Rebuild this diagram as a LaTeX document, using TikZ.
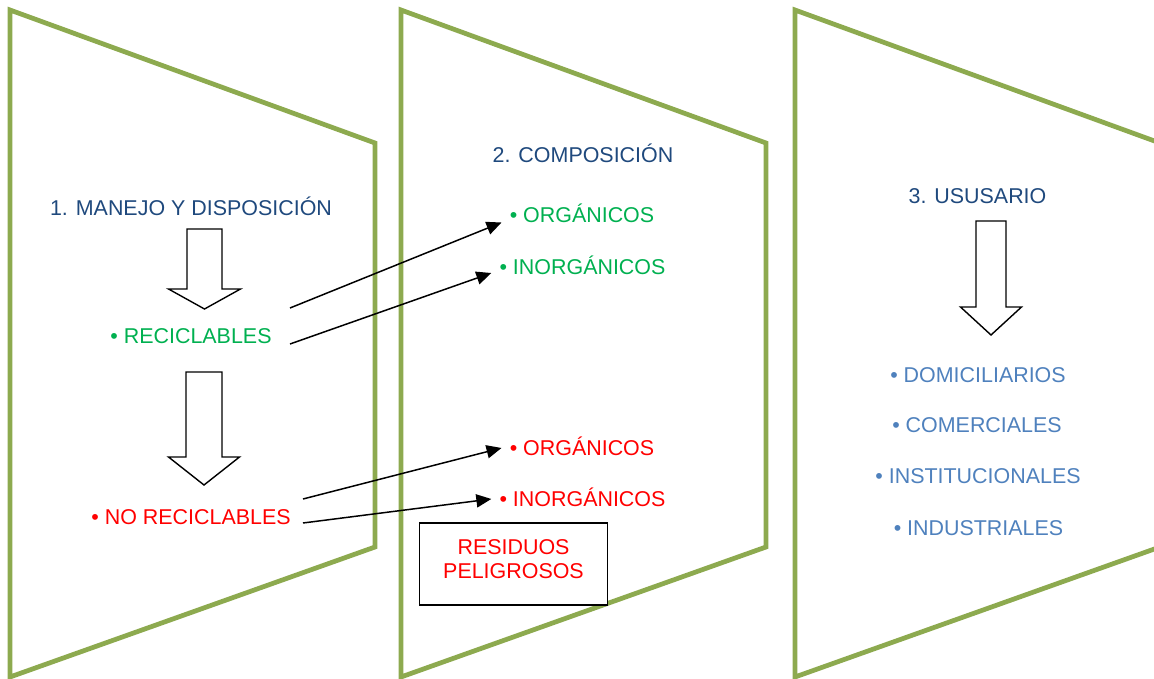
\documentclass[tikz,border=0pt]{standalone}
\usepackage{fontspec}
\setmainfont{Liberation Sans}
\usepackage{xcolor}
\usetikzlibrary{arrows.meta}
\definecolor{panelgreen}{RGB}{141,170,79}
\definecolor{titleblue}{RGB}{31,73,125}
\definecolor{itemgreen}{RGB}{0,176,80}
\definecolor{itemblue}{RGB}{79,129,189}

\begin{document}
\begin{tikzpicture}[x=0.02cm,y=-0.02cm,
    panel/.style={draw=panelgreen, line width=2.7pt},
    txt/.style={anchor=base, inner sep=0pt, font=\fontsize{12.2}{14}\selectfont},
    conn/.style={-{Triangle[length=8.5pt,width=7.5pt]}, line width=0.85pt},
    bigarrow/.style={draw=black, fill=white, line width=0.8pt}]
    \useasboundingbox (0,0) rectangle (1154,679);
    \clip (0,0) rectangle (1154,679);
    % the three panels
    \foreach \x in {10,401,795}
        \draw[panel] (\x,10) -- ++(365,133) -- ++(0,404) -- (\x,677) -- cycle;
    % block arrows
    \foreach \cx/\ya/\yb/\yc/\ws/\wh in {204.5/229/289/309/17.5/36, 204/372/457/485/18/35.5, 991/221/307/335/15/30.5}
        \draw[bigarrow] (\cx-\ws,\ya) -- (\cx+\ws,\ya) -- (\cx+\ws,\yb) -- (\cx+\wh,\yb) -- (\cx,\yc) -- (\cx-\wh,\yb) -- (\cx-\ws,\yb) -- cycle;
    % panel 1
    \node[txt, text=titleblue] (manejo) at (191,215.5) {1. MANEJO Y DISPOSICIÓN};
    \node[txt, text=itemgreen] (recic) at (191,343.5) {• RECICLABLES};
    \node[txt, text=red] (norecic) at (191,524.5) {• NO RECICLABLES};
    % panel 2
    \node[txt, text=titleblue] (compo) at (583,162.5) {2. COMPOSICIÓN};
    \node[txt, text=itemgreen] (orgA) at (582,222.5) {• ORGÁNICOS};
    \node[txt, text=itemgreen] (inorgA) at (582.5,274.5) {• INORGÁNICOS};
    \node[txt, text=red] (orgB) at (582,455) {• ORGÁNICOS};
    \node[txt, text=red] (inorgB) at (582.5,506) {• INORGÁNICOS};
    \node[draw, fill=white, line width=1pt, minimum width=107pt, minimum height=46.5pt] (peligro) at (513.5,564) {};
    \node[align=center, text=red, inner sep=0pt, font=\fontsize{12.2}{13.6}\selectfont]
        (peligrotxt) at ([yshift=3pt]peligro.center) {RESIDUOS\\PELIGROSOS};
    % panel 3
    \node[txt, text=titleblue] (usuario) at (977.5,203.5) {3. USUSARIO};
    \node[txt, text=itemblue] (domic) at (978,382.5) {• DOMICILIARIOS};
    \node[txt, text=itemblue] (comer) at (977,432.5) {• COMERCIALES};
    \node[txt, text=itemblue] (instit) at (978,483.5) {• INSTITUCIONALES};
    \node[txt, text=itemblue] (indus) at (978.5,535.5) {• INDUSTRIALES};
    % connectors
    \coordinate (r1) at (290,308);
    \coordinate (r2) at (290,344);
    \coordinate (n1) at (303,499);
    \coordinate (n2) at (303,523);
    \draw[conn] (r1) -- ([xshift=-4.5pt]orgA.base west);
    \draw[conn] (r2) -- ([xshift=-4.5pt,yshift=0.85pt]inorgA.base west);
    \draw[conn] (n1) -- ([xshift=-4.5pt,yshift=4pt]orgB.base west);
    \draw[conn] (n2) -- ([xshift=-4.5pt,yshift=4pt]inorgB.base west);
\end{tikzpicture}
\end{document}
